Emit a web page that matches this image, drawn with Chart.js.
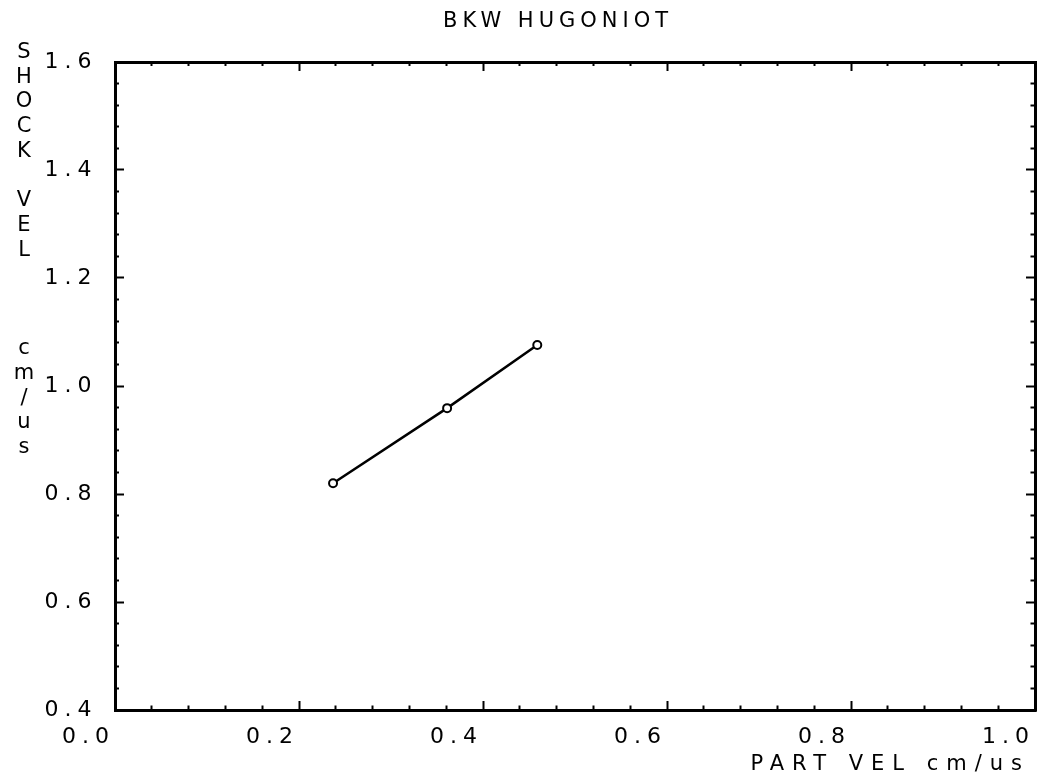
<!DOCTYPE html>
<html>
<head>
<meta charset="utf-8">
<title>BKW HUGONIOT</title>
<script src="https://cdn.jsdelivr.net/npm/chart.js@4.4.1/dist/chart.umd.min.js"></script>
<style>
    html, body { margin: 0; padding: 0; background: #fff; }
    #cadre { position: relative; width: 1050px; height: 782px; overflow: hidden; }
    #hugoniot-chart { position: absolute; left: 0; top: 0; }
    .texte { position: absolute; font-family: "DejaVu Sans"; font-size: 21px; line-height: 21px; color: #000; white-space: pre; }
    #titre { left: 443px; top: 10px; letter-spacing: 5px; }
    #titre-x { right: 20px; top: 753px; letter-spacing: 8px; }
    #titre-y { left: 13px; top: 39px; writing-mode: vertical-lr; text-orientation: upright; letter-spacing: 0.7px; }
</style>
</head>
<body>
<div id="cadre">
    <canvas id="hugoniot-chart" width="1050" height="782"></canvas>
    <div class="texte" id="titre">BKW HUGONIOT</div>
    <div class="texte" id="titre-x">PART VEL cm/us</div>
    <div class="texte" id="titre-y">SHOCK VEL   cm/us</div>
</div>
<script>
// Données
const vitessesParticule = [0.237, 0.361, 0.459];   // PART VEL cm/us
const vitessesChoc = [0.820, 0.959, 1.076];        // SHOCK VEL cm/us

// Axes
const bornesX = [0.0, 1.0];
const bornesY = [0.4, 1.6];
const libellesX = ['0.0', '0.2', '0.4', '0.6', '0.8', '1.0'];
const libellesY = ['0.4', '0.6', '0.8', '1.0', '1.2', '1.4', '1.6'];
const pasMajeur = 0.2;
const pasMineur = 0.04;

const policeGraduations = { family: 'DejaVu Sans', size: 22 };

// Graduation principale ?
function estMajeur(valeur) {
    const r = valeur / pasMajeur;
    return Math.abs(r - Math.round(r)) < 1e-6;
}

// Les graduations mineures sont plus courtes : le trait est coupé par un pointillé
function tiret(ctx) {
    if (!ctx.tick || estMajeur(ctx.tick.value)) return [];
    return [6.5, 5];
}

// Sur les axes gauche et haut le trait part de l'intérieur, on décale le pointillé
function decalage(depuisInterieur) {
    return (ctx) => {
        if (!ctx.tick || estMajeur(ctx.tick.value) || !depuisInterieur) return 0;
        return 6.5;
    };
}

function libelle(libelles, min) {
    return (valeur) => {
        if (!estMajeur(valeur)) return '';
        return libelles[Math.round((valeur - min) / pasMajeur)] || '';
    };
}

function creerAxe(position, bornes, libelles, taille) {
    const horizontal = position === 'bottom' || position === 'top';
    const depuisInterieur = position === 'left' || position === 'top';
    return {
        type: 'linear',
        position: position,
        min: bornes[0],
        max: bornes[1],
        afterFit: (axe) => {
            if (horizontal) axe.height = taille; else axe.width = taille;
            axe.paddingLeft = 0;
            axe.paddingRight = 0;
            axe.paddingTop = 0;
            axe.paddingBottom = 0;
        },
        border: { display: true, color: '#000', width: 3 },
        grid: {
            drawOnChartArea: false,
            drawTicks: true,
            tickLength: -9,
            tickWidth: 2,
            tickColor: '#000',
            tickBorderDash: tiret,
            tickBorderDashOffset: decalage(depuisInterieur)
        },
        ticks: {
            display: libelles !== null,
            stepSize: pasMineur,
            autoSkip: false,
            maxRotation: 0,
            minRotation: 0,
            align: horizontal ? 'end' : 'center',
            padding: horizontal ? 23.5 : 26.5,
            color: '#000',
            font: policeGraduations,
            callback: libelle(libelles || [], bornes[0])
        }
    };
}

// Espacement des caractères façon traceur
const espacementLettres = {
    id: 'espacementLettres',
    beforeUpdate(chart) { chart.ctx.letterSpacing = '6px'; },
    beforeDraw(chart) { chart.ctx.letterSpacing = '6px'; }
};

const points = vitessesParticule.map((x, i) => ({ x: x, y: vitessesChoc[i] }));

const ctx = document.getElementById('hugoniot-chart').getContext('2d');
new Chart(ctx, {
    type: 'line',
    data: {
        datasets: [{
            label: 'BKW HUGONIOT',
            data: points,
            borderColor: '#000',
            borderWidth: 2.5,
            pointRadius: 4,
            pointBorderWidth: 2,
            pointBackgroundColor: '#fff',
            pointBorderColor: '#000',
            tension: 0,
            xAxisID: 'x',
            yAxisID: 'y'
        }]
    },
    options: {
        responsive: false,
        animation: false,
        layout: { padding: { left: 0, right: 15, top: 62, bottom: 0 } },
        scales: {
            x: creerAxe('bottom', bornesX, libellesX, 72),
            xHaut: creerAxe('top', bornesX, null, 0),
            y: creerAxe('left', bornesY, libellesY, 115),
            yDroite: creerAxe('right', bornesY, null, 0)
        },
        plugins: {
            legend: { display: false },
            tooltip: { enabled: false },
            title: { display: false }
        }
    },
    plugins: [espacementLettres]
});
</script>
</body>
</html>
